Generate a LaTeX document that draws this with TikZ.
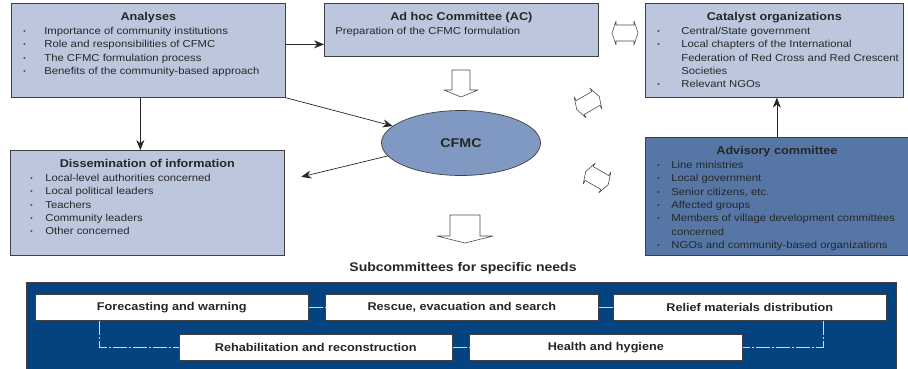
\documentclass[tikz,border=0pt]{standalone}
\usepackage{fontspec}
\setmainfont{Liberation Sans}[FakeStretch=1.12]
\usepackage{graphicx}
\usetikzlibrary{arrows.meta,shapes.geometric}

\definecolor{panelblue}{RGB}{188,199,222}
\definecolor{cfmcblue}{RGB}{128,153,194}
\definecolor{advblue}{RGB}{86,119,166}
\definecolor{navy}{RGB}{4,67,128}
\definecolor{linegray}{RGB}{64,64,64}
\definecolor{textgray}{RGB}{38,38,38}

% bullet lists inside the panels
\newlength{\bulhang}
\setlength{\bulhang}{21pt}
\newcommand{\bul}[1]{\par\noindent\makebox[\bulhang][l]{\raisebox{1pt}{\scalebox{0.6}{\textbullet}}}\mbox{#1}}
\newcommand{\cont}[1]{\par\noindent\hspace*{\bulhang}\mbox{#1}}
\newcommand{\paneltitle}[1]{\makebox[\linewidth]{\rule{0pt}{14pt}\textbf{\fontsize{11.3}{13.3}\selectfont #1}}\par\vspace{1pt}}
\newcommand{\panelbody}[3]{\parbox[t][#2][t]{#1}{#3}}

% hollow block arrow pointing down: x, top, body half, head half, length, head length
\newcommand{\downblock}[6]{%
  \draw[blockarrow] (#1-#3,#2) -- (#1+#3,#2) -- (#1+#3,#2+#5-#6) -- (#1+#4,#2+#5-#6)
    -- (#1,#2+#5) -- (#1-#4,#2+#5-#6) -- (#1-#3,#2+#5-#6) -- cycle;}

\tikzset{
  panel/.style={draw=linegray, line width=0.7pt, fill=#1, anchor=north west,
    inner xsep=12pt, inner ysep=3pt, text=textgray,
    font=\fontsize{10.1}{13.3}\selectfont},
  panel/.default=panelblue,
  hub/.style={ellipse, draw=linegray, line width=0.7pt, fill=cfmcblue,
    minimum width=159pt, minimum height=65pt, text=textgray,
    font=\bfseries\fontsize{12.7}{14}\selectfont},
  link/.style={draw=black!85, line width=0.7pt, -{Stealth[length=10pt,width=8pt]}},
  blockarrow/.style={draw=black!70, fill=white, line width=0.6pt, line join=round},
  needsbox/.style={draw=linegray, fill=navy, line width=0.8pt, anchor=north west,
    minimum width=870pt, minimum height=92pt, inner sep=0pt},
  subbox/.style={draw=linegray, fill=white, line width=0.6pt, anchor=north west,
    minimum width=273pt, minimum height=26pt, inner sep=0pt, text=textgray,
    font=\bfseries\fontsize{11.3}{13}\selectfont},
  subline/.style={draw=white!85!black, line width=0.7pt,
    dash pattern=on 14pt off 2pt on 2pt off 2pt},
  swaparrow/.pic={
    \draw[blockarrow] (-13,0) -- (-9,-12) -- (-9,-8) -- (9,-8) -- (9,-12) -- (13,0)
      -- (9,12) -- (9,8) -- (-9,8) -- (-9,12) -- cycle;
  }
}

\begin{document}
\begin{tikzpicture}[x=1pt, y=-1pt]
  \useasboundingbox (0,0) rectangle (908,368);

  % upper panels
  \node[panel] (analyses) at (11,3) {\panelbody{250pt}{88pt}{\setlength{\bulhang}{21pt}%
    \paneltitle{Analyses}
    \bul{Importance of community institutions}
    \bul{Role and responsibilities of CFMC}
    \bul{The CFMC formulation process}
    \bul{Benefits of the community-based approach}}};
  \node[panel, inner xsep=11pt] (adhoc) at (324,3) {\panelbody{252pt}{47pt}{%
    \paneltitle{Ad hoc Committee (AC)}
    \noindent Preparation of the CFMC formulation}};
  \node[panel] (catalyst) at (645,3) {\panelbody{234pt}{88pt}{\setlength{\bulhang}{24pt}%
    \paneltitle{Catalyst organizations}
    \bul{Central/State government}
    \bul{Local chapters of the International}
    \cont{Federation of Red Cross and Red Crescent}
    \cont{Societies}
    \bul{Relevant NGOs}}};
  \node[panel, inner xsep=20pt] (dissem) at (10,150) {\panelbody{234pt}{99pt}{\setlength{\bulhang}{15pt}%
    \paneltitle{Dissemination of information}
    \bul{Local-level authorities concerned}
    \bul{Local political leaders}
    \bul{Teachers}
    \bul{Community leaders}
    \bul{Other concerned}}};
  \node[panel=advblue] (advisory) at (645,137) {\panelbody{239pt}{112pt}{\setlength{\bulhang}{14pt}%
    \paneltitle{Advisory committee}
    \bul{Line ministries}
    \bul{Local government}
    \bul{Senior citizens, etc.}
    \bul{Affected groups}
    \bul{Members of village development committees}
    \cont{concerned}
    \bul{NGOs and community-based organizations}}};

  \node[hub] (cfmc) at (461,143) {CFMC};

  % arrows
  \coordinate (a2ac) at ([yshift=6pt]analyses.east);
  \draw[link] (a2ac) -- (a2ac -| adhoc.west);
  \coordinate (a2d) at ([xshift=-8pt]analyses.south);
  \draw[link] (a2d) -- (a2d |- dissem.north);
  \draw[link] (analyses.south east) -- (cfmc.166);
  \coordinate (d2c) at ([yshift=22pt]dissem.east);
  \draw[link, shorten >=17pt] (cfmc.190) -- (d2c);
  \draw[link] (advisory.north) -- (advisory.north |- catalyst.south);

  \downblock{461}{70}{9}{17}{27}{7}
  \downblock{465}{215}{15}{28}{28}{7}
  \pic (swapa) at (625,33) {swaparrow};
  \pic[rotate=30] (swapb) at (588,103) {swaparrow};
  \pic[rotate=-30] (swapc) at (597,178) {swaparrow};

  % subcommittees
  \node[text=textgray, font=\bfseries\fontsize{12.5}{14}\selectfont] (subhead) at (463,268) {Subcommittees for specific needs};
  \node[needsbox] (needs) at (26,282) {};
  \node[subbox] (forecast) at (35,294) {Forecasting and warning};
  \node[subbox] (rescue) at (325,294) {Rescue, evacuation and search};
  \node[subbox] (relief) at (613,294) {Relief materials distribution};
  \node[subbox] (rehab) at (179,334) {Rehabilitation and reconstruction};
  \node[subbox] (health) at (469,334) {Health and hygiene};
  \draw[subline] (forecast.east) -- (rescue.west);
  \draw[subline] (rescue.east) -- (relief.west);
  \draw[subline] (rehab.east) -- (health.west);
  \draw[subline] ([xshift=-72.5pt]forecast.south) |- (rehab.west);
  \draw[subline] ([xshift=73.5pt]relief.south) |- (health.east);
\end{tikzpicture}
\end{document}
